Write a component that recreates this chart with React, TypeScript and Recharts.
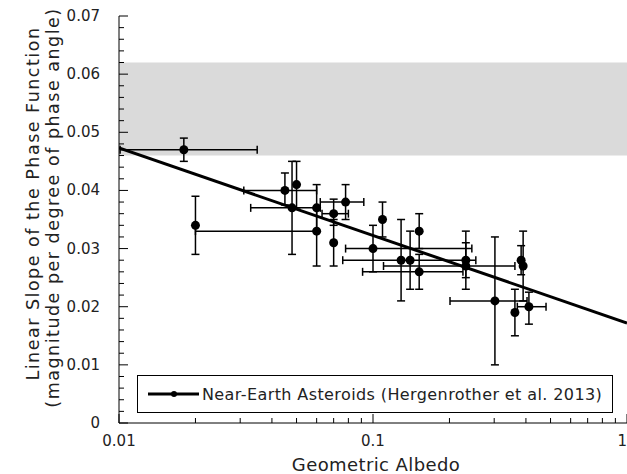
import { ScatterChart, Scatter, XAxis, YAxis, ErrorBar, ReferenceArea } from 'recharts';

// Near-Earth asteroids: geometric albedo vs linear phase slope (mag/deg)
const albedo = [0.018, 0.02, 0.045, 0.05, 0.048, 0.06, 0.06, 0.07, 0.07, 0.078, 0.1, 0.109, 0.129, 0.14, 0.152, 0.152, 0.232, 0.232, 0.302, 0.362, 0.383, 0.39, 0.411];
const slope = [0.047, 0.034, 0.04, 0.041, 0.037, 0.037, 0.033, 0.036, 0.031, 0.038, 0.03, 0.035, 0.028, 0.028, 0.033, 0.026, 0.028, 0.027, 0.021, 0.019, 0.028, 0.027, 0.02];
// albedo error range (null = no horizontal bar)
const albedoLo = [0.0101, null, 0.031, null, 0.033, null, 0.02, 0.063, null, 0.062, 0.078, null, 0.076, null, null, 0.091, null, 0.11, 0.201, null, null, null, 0.37];
const albedoHi = [0.035, null, 0.06, null, 0.062, null, 0.06, 0.08, null, 0.092, 0.245, null, 0.254, null, null, 0.226, null, 0.362, 0.404, null, null, null, 0.48];
// slope error range
const slopeLo = [0.045, 0.029, 0.0375, 0.037, 0.029, 0.033, 0.027, 0.034, 0.027, 0.035, 0.026, 0.032, 0.021, 0.023, 0.03, 0.023, 0.025, 0.023, 0.01, 0.015, 0.0255, 0.021, 0.017];
const slopeHi = [0.049, 0.039, 0.043, 0.045, 0.045, 0.041, 0.037, 0.0385, 0.035, 0.041, 0.034, 0.038, 0.035, 0.033, 0.036, 0.029, 0.031, 0.033, 0.032, 0.023, 0.0305, 0.033, 0.0225];

// fitted trend line
const fitAlbedo = [0.01, 1];
const fitSlope = [0.0473, 0.0172];

// shaded band
const bandLow = 0.046;
const bandHigh = 0.062;

const xTicks = [0.01, 0.02, 0.03, 0.04, 0.05, 0.06, 0.07, 0.08, 0.09, 0.1, 0.2, 0.3, 0.4, 0.5, 0.6, 0.7, 0.8, 0.9, 1];
const xMajor = [0.01, 0.1, 1];
const yTicks = Array.from({ length: 36 }, (_, i) => +(i * 0.002).toFixed(3));

const points = albedo.map((a, i) => ({
  x: a,
  y: slope[i],
  ex: albedoLo[i] == null ? [0, 0] : [a - (albedoLo[i] as number), (albedoHi[i] as number) - a],
  ey: [slope[i] - slopeLo[i], slopeHi[i] - slope[i]],
}));
const fitData = fitAlbedo.map((a, i) => ({ x: a, y: fitSlope[i] }));

const FONT = '"DejaVu Sans", Verdana, sans-serif';
const isYMajor = (v: number) => Math.round(v * 1000) % 10 === 0;

const LeftTick = ({ x, y, payload }: any) => {
  const major = isYMajor(payload.value);
  return (
    <g>
      <line x1={x} x2={x + (major ? 9 : 5)} y1={y} y2={y} stroke="#000" />
      {major && (
        <text x={x - 19} y={y + 5} textAnchor="end" fontSize={15} fontFamily={FONT} fill="#222">
          {payload.value === 0 ? '0' : payload.value.toFixed(2)}
        </text>
      )}
    </g>
  );
};

const RightTick = ({ x, y, payload }: any) => {
  const major = isYMajor(payload.value);
  return <line x1={x} x2={x - (major ? 9 : 5)} y1={y} y2={y} stroke="#000" />;
};

const BottomTick = ({ x, y, payload }: any) => {
  const major = xMajor.includes(payload.value);
  const last = payload.value === 1;
  return (
    <g>
      <line x1={x} x2={x} y1={y} y2={y - (major ? 9 : 5)} stroke="#000" />
      {major && (
        <text x={x} y={y + 23} textAnchor={last ? 'end' : 'middle'} fontSize={15} fontFamily={FONT} fill="#222">
          {String(payload.value)}
        </text>
      )}
    </g>
  );
};

const TopTick = ({ x, y, payload }: any) => {
  const major = xMajor.includes(payload.value);
  return <line x1={x} x2={x} y1={y} y2={y + (major ? 9 : 5)} stroke="#000" />;
};

const YTitle = ({ viewBox }: any) => {
  const cy = viewBox.y + viewBox.height / 2 - 16;
  return (
    <g fontFamily={FONT} fontSize={17.5} letterSpacing={1.5} fill="#222">
      <text x={39} y={cy} textAnchor="middle" transform={`rotate(-90, 39, ${cy})`}>
        Linear Slope of the Phase Function
      </text>
      <text x={59} y={cy + 4} textAnchor="middle" transform={`rotate(-90, 59, ${cy + 4})`}>
        (magnitude per degree of phase angle)
      </text>
    </g>
  );
};

const XTitle = ({ viewBox }: any) => (
  <text x={viewBox.x + viewBox.width / 2 + 3} y={471} textAnchor="middle" fontFamily={FONT} fontSize={18} letterSpacing={0.4} fill="#222">
    Geometric Albedo
  </text>
);

const Dot = ({ cx, cy }: any) => <circle cx={cx} cy={cy} r={4.5} fill="#000" />;

export default function App() {
  return (
    <div style={{ position: 'absolute', left: 0, top: 0, width: 627, height: 474, background: '#fff' }}>
      <ScatterChart width={627} height={474} margin={{ top: 16, right: 0, bottom: 0, left: 0 }}>
        <ReferenceArea xAxisId="b" yAxisId="l" x1={0.01} x2={1} y1={bandLow} y2={bandHigh} fill="#dadada" fillOpacity={1} stroke="none" />
        <XAxis
          xAxisId="b" dataKey="x" type="number" scale="log" domain={[0.01, 1]} allowDataOverflow
          ticks={xTicks} interval={0} height={51} tickSize={0} tickMargin={0} tickLine={false}
          axisLine={{ stroke: '#000' }} tick={<BottomTick />} label={<XTitle />}
        />
        <XAxis
          xAxisId="t" orientation="top" dataKey="x" type="number" scale="log" domain={[0.01, 1]} allowDataOverflow
          ticks={xTicks} interval={0} height={0} tickSize={0} tickMargin={0} tickLine={false}
          axisLine={{ stroke: '#000' }} tick={<TopTick />}
        />
        <YAxis
          yAxisId="l" dataKey="y" type="number" domain={[0, 0.07]} allowDataOverflow
          ticks={yTicks} interval={0} width={119} tickSize={0} tickMargin={0} tickLine={false}
          axisLine={{ stroke: '#000' }} tick={<LeftTick />} label={<YTitle />}
        />
        <YAxis
          yAxisId="r" orientation="right" dataKey="y" type="number" domain={[0, 0.07]} allowDataOverflow
          ticks={yTicks} interval={0} width={0} tickSize={0} tickMargin={0} tickLine={false}
          axisLine={{ stroke: '#000' }} tick={<RightTick />}
        />
        <Scatter
          xAxisId="b" yAxisId="l" data={fitData} line={{ stroke: '#000', strokeWidth: 3 }}
          shape={() => <g />} isAnimationActive={false} legendType="none"
        />
        <Scatter xAxisId="b" yAxisId="l" data={points} shape={<Dot />} isAnimationActive={false}>
          <ErrorBar dataKey="ex" direction="x" width={4} stroke="#000" strokeWidth={1.5} isAnimationActive={false} />
          <ErrorBar dataKey="ey" direction="y" width={4} stroke="#000" strokeWidth={1.5} isAnimationActive={false} />
        </Scatter>
      </ScatterChart>
      <div
        style={{
          position: 'absolute', left: 137, top: 375, width: 474, height: 36,
          border: '1px solid #000', background: '#fff', display: 'flex', alignItems: 'center',
          fontFamily: FONT, fontSize: 16, letterSpacing: 0.4, color: '#222', whiteSpace: 'nowrap',
        }}
      >
        <svg width={64} height={12} style={{ flex: 'none' }}>
          <line x1={10} x2={61} y1={6} y2={6} stroke="#000" strokeWidth={3} />
          <circle cx={36} cy={6} r={3} fill="#000" />
        </svg>
        <span>Near-Earth Asteroids (Hergenrother et al. 2013)</span>
      </div>
    </div>
  );
}
